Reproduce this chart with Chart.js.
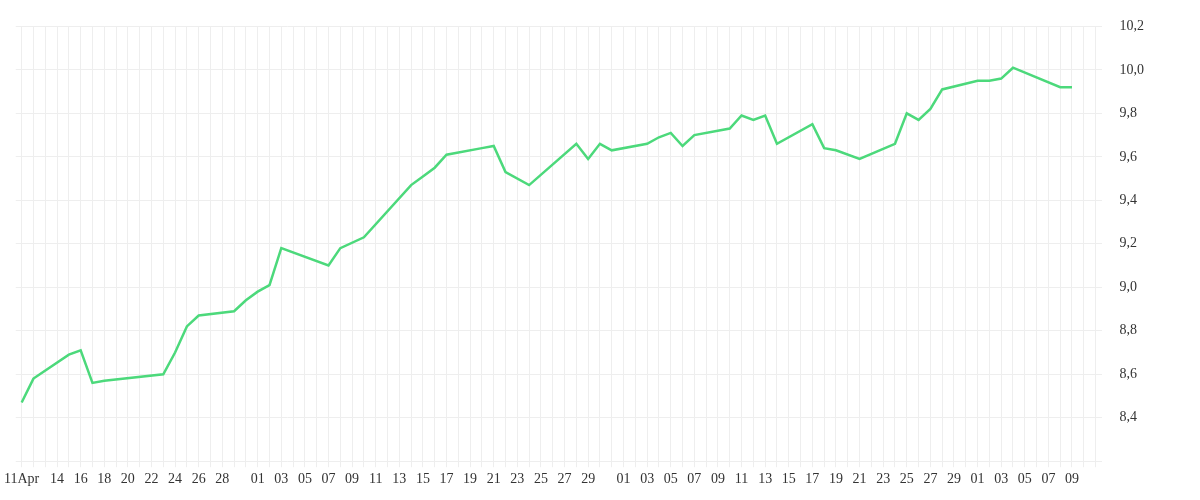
<!DOCTYPE html>
<html><head><meta charset="utf-8">
<script src="https://cdn.jsdelivr.net/npm/chart.js@4/dist/chart.umd.min.js"></script>
<style>html,body{margin:0;background:#fff}#w{width:1200px;height:500px}</style>
</head><body><div id="w"><canvas id="c"></canvas></div>
<script>
// one category per day, Apr 11 .. Jul 11
const months = [["Apr",11,30],["May",1,31],["Jun",1,30],["Jul",1,11]];
const dayLabels = [];
months.forEach(m=>{for(let d=m[1];d<=m[2];d++)dayLabels.push(m[0]+" "+d);});
// visible tick texts by day index
const tickIdx = [0,3,5,7,9,11,13,15,17,20,22,24,26,28,30,32,34,36,38,40,42,44,46,48,51,53,55,57,59,61,63,65,67,69,71,73,75,77,79,81,83,85,87,89];
const tickText = ["11Apr","14","16","18","20","22","24","26","28","01","03","05","07","09","11","13","15","17","19","21","23","25","27","29","01","03","05","07","09","11","13","15","17","19","21","23","25","27","29","01","03","05","07","09"];
// observed points: day index and value
const obsDay = [0,1,4,5,6,7,12,13,14,15,18,19,20,21,22,26,27,29,33,34,35,36,39,40,41,43,47,48,49,50,53,54,55,56,57,60,61,62,63,64,67,68,69,71,74,75,76,77,78,81,82,83,84,88,89];
const obsVal = [8.47,8.58,8.69,8.71,8.56,8.57,8.60,8.70,8.82,8.87,8.89,8.94,8.98,9.01,9.18,9.10,9.18,9.23,9.47,9.51,9.55,9.61,9.64,9.65,9.53,9.47,9.66,9.59,9.66,9.63,9.66,9.69,9.71,9.65,9.70,9.73,9.79,9.77,9.79,9.66,9.75,9.64,9.63,9.59,9.66,9.80,9.77,9.82,9.91,9.95,9.95,9.96,10.01,9.92,9.92];
const series = dayLabels.map(()=>null);
obsDay.forEach((d,i)=>series[d]=obsVal[i]);
const tickMap = {}; tickIdx.forEach((d,i)=>tickMap[d]=tickText[i]);
const font = {family:"'Liberation Serif', serif", size:14};
new Chart(document.getElementById('c'),{
 type:'line',
 data:{labels:dayLabels,datasets:[{data:series,borderColor:'#4cd97b',borderWidth:2.5,pointRadius:0,spanGaps:true,tension:0}]},
 options:{responsive:true,maintainAspectRatio:false,animation:false,
  layout:{padding:{left:6,right:38,top:2,bottom:8}},
  plugins:{legend:{display:false},tooltip:{enabled:false}},
  scales:{
   x:{offset:true,grid:{color:'#eeeeee',drawTicks:true,tickLength:6},border:{display:false},
      ticks:{autoSkip:false,maxRotation:0,color:'#333',font,padding:4,callback:(v,i)=>tickMap[i]??''}},
   y:{position:'right',min:8.2,max:10.2,grid:{color:'#eeeeee',drawTicks:false},border:{display:false},
      ticks:{stepSize:0.2,color:'#333',font,padding:18,callback:v=>Math.abs(v-8.2)<1e-6?'':v.toFixed(1).replace('.',','),}}
  }}
});
</script></body></html>
